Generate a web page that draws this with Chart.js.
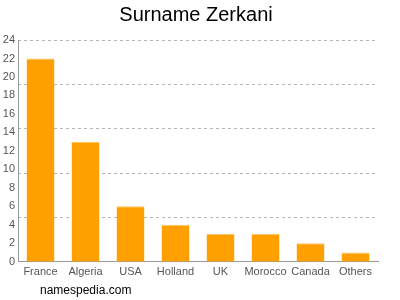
<!DOCTYPE html>
<html>
<head>
<meta charset="utf-8">
<script src="https://cdn.jsdelivr.net/npm/chart.js@4"></script>
<style>
  html, body { margin: 0; padding: 0; background: #fff; }
  #wrap { position: relative; width: 400px; height: 300px; }
  #site { position: absolute; left: 40px; top: 283px; font: 12px "Liberation Sans", Arial, sans-serif; color: #000; }
</style>
</head>
<body>
<div id="wrap">
  <canvas id="myChart" width="400" height="300"></canvas>
  <div id="site">namespedia.com</div>
</div>
<script>
const countries = ["France", "Algeria", "USA", "Holland", "UK", "Morocco", "Canada", "Others"];
const counts = [22, 13, 6, 4, 3, 3, 2, 1];
const yMax = 24;
const gridStep = 4.8; // dashed lines do not follow the labels

const ctx = document.getElementById("myChart").getContext("2d");
new Chart(ctx, {
  type: "bar",
  data: {
    labels: countries,
    datasets: [
      {
        data: counts,
        backgroundColor: "#ffa000",
        borderColor: "#ffc55a",
        borderWidth: { top: 1, left: 0, right: 0, bottom: 0 },
        borderSkipped: false,
        categoryPercentage: 0.62,
        barPercentage: 1,
      },
    ],
  },
  options: {
    responsive: false,
    animation: false,
    layout: { padding: { left: 0, right: 8, top: 0, bottom: 21 } },
    plugins: {
      legend: { display: false },
      tooltip: { enabled: false },
      title: {
        display: true,
        text: "Surname Zerkani",
        color: "#000",
        font: { family: "Liberation Sans", size: 20, weight: "normal" },
        padding: { top: 3, bottom: 13 },
      },
    },
    scales: {
      x: {
        grid: { display: false, drawTicks: true, tickLength: 4 },
        border: { color: "#999" },
        ticks: { color: "#555", font: { family: "Liberation Sans", size: 11 }, padding: 0, maxRotation: 0, autoSkip: false },
      },
      y: {
        min: 0,
        max: yMax,
        position: "left",
        grid: { display: false, drawTicks: false, tickLength: 0 },
        border: { color: "#999" },
        ticks: { stepSize: 2, color: "#555", font: { family: "Liberation Sans", size: 11 }, padding: 3, autoSkip: false },
        afterFit: (s) => { s.width = 18; },
      },
      y2: {
        min: 0,
        max: yMax,
        position: "right",
        display: true,
        border: { display: false, dash: [3, 3] },
        ticks: { display: false, stepSize: gridStep },
        grid: { color: "#b5b5b5", drawTicks: false, tickLength: 0 },
        afterFit: (s) => { s.width = 14; },
      },
    },
  },
});
</script>
</body>
</html>
